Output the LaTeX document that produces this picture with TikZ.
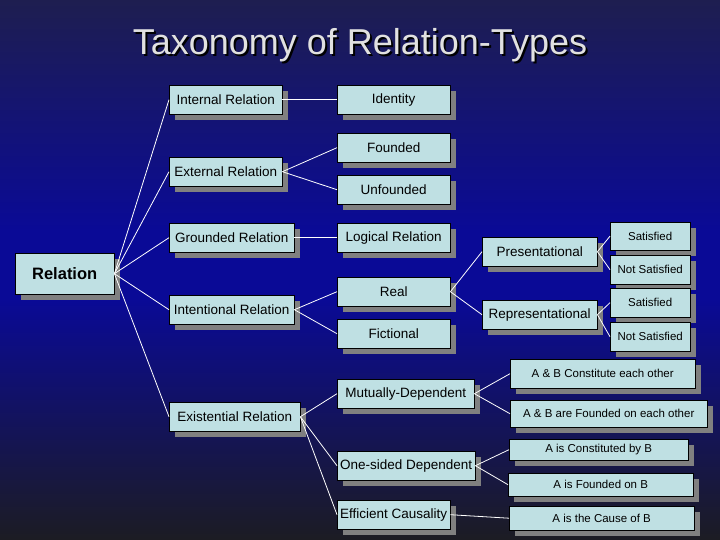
\documentclass[tikz,border=0pt]{standalone}
\usepackage{fontspec}
\setmainfont{Liberation Sans}
\usetikzlibrary{shadows}
\definecolor{bgtop}{RGB}{30,30,80}
\definecolor{bgmid}{RGB}{10,10,150}
\definecolor{bgbot}{RGB}{28,28,35}
\definecolor{boxfill}{RGB}{191,224,227}
\definecolor{shad}{RGB}{128,128,128}
\definecolor{ttl}{RGB}{225,225,225}
\begin{document}
\begin{tikzpicture}[x=1pt,y=-1pt,
  box/.style={draw=black,fill=boxfill,anchor=north west,inner sep=0pt,font=\fontsize{13.5}{15}\selectfont,text=black,
    drop shadow={shadow xshift=6pt,shadow yshift=-6pt,fill=shad,opacity=1}},
  sbox/.style={box,font=\fontsize{11.5}{13}\selectfont},
  ln/.style={draw=white,line width=0.8pt}]
\shade[top color=bgtop,bottom color=bgmid] (0,0) rectangle (720,230);
\fill[bgmid] (0,229) rectangle (720,300);
\shade[top color=bgmid,bottom color=bgbot] (0,299) rectangle (720,540);
\useasboundingbox (0,0) rectangle (720,540);
\node[text=black,font=\fontsize{36}{40}\selectfont] at (362,47) {Taxonomy of Relation-Types};
\node[text=ttl,font=\fontsize{36}{40}\selectfont] (title) at (360,45) {Taxonomy of Relation-Types};
\newcommand\bx[7]{\node[#1,minimum width=#5pt-#3pt,minimum height=#6pt-#4pt] (#2) at (#3,#4) {#7};}
\bx{box}{rel}{15}{253}{114}{294}{\fontsize{16.5}{18}\selectfont\bfseries Relation}
\bx{box}{int}{169}{85}{282}{114}{Internal Relation}
\bx{box}{ide}{337}{85}{450}{114}{Identity}
\bx{box}{ext}{169}{157}{282}{186}{External Relation}
\bx{box}{fou}{337}{133}{450}{162}{Founded}
\bx{box}{unf}{337}{175}{450}{204}{Unfounded}
\bx{box}{gro}{169}{223}{294}{252}{Grounded Relation}
\bx{box}{log}{337}{223}{450}{252}{Logical Relation}
\bx{box}{inte}{169}{295}{294}{324}{Intentional Relation}
\bx{box}{rea}{337}{277}{450}{306}{Real}
\bx{box}{fic}{337}{319}{450}{348}{Fictional}
\bx{box}{pre}{482}{237}{597}{266}{Presentational}
\bx{box}{rep}{482}{300}{597}{329}{Representational}
\bx{sbox}{s1}{610}{222}{690}{250}{Satisfied}
\bx{sbox}{n1}{610}{255}{690}{284}{Not Satisfied}
\bx{sbox}{s2}{610}{288}{690}{317}{Satisfied}
\bx{sbox}{n2}{610}{322}{690}{351}{Not Satisfied}
\bx{box}{exi}{169}{402}{300}{431}{Existential Relation}
\bx{box}{mut}{337}{379}{474}{408}{Mutually-Dependent}
\bx{box}{one}{337}{451}{475}{480}{One-sided Dependent}
\bx{box}{eff}{337}{500}{450}{529}{Efficient Causality}
\bx{sbox}{c1}{510}{359}{695}{388}{A \& B Constitute each other}
\bx{sbox}{c2}{510}{400}{707}{427}{A \& B are Founded on each other}
\bx{sbox}{c3}{509}{439}{688}{460}{A is Constituted by B}
\bx{sbox}{c4}{508}{473}{693}{496}{A is Founded on B}
\bx{sbox}{c5}{509}{506}{694}{530}{A is the Cause of B}
\foreach \t in {int,ext,gro,inte,exi} \draw[ln] (rel.east) -- (\t.west);
\draw[ln] (int.east) -- (ide.west);
\draw[ln] (ext.east) -- (fou.west); \draw[ln] (ext.east) -- (unf.west);
\draw[ln] (gro.east) -- (log.west);
\draw[ln] (inte.east) -- (rea.west); \draw[ln] (inte.east) -- (fic.west);
\draw[ln] (rea.east) -- (pre.west); \draw[ln] (rea.east) -- (rep.west);
\draw[ln] (pre.east) -- (s1.west); \draw[ln] (pre.east) -- (n1.west);
\draw[ln] (rep.east) -- (s2.west); \draw[ln] (rep.east) -- (n2.west);
\foreach \t in {mut,one,eff} \draw[ln] (exi.east) -- (\t.west);
\draw[ln] (mut.east) -- (c1.west); \draw[ln] (mut.east) -- (c2.west);
\draw[ln] (one.east) -- (c3.west); \draw[ln] (one.east) -- (c4.west);
\draw[ln] (eff.east) -- (c5.west);
\end{tikzpicture}
\end{document}
